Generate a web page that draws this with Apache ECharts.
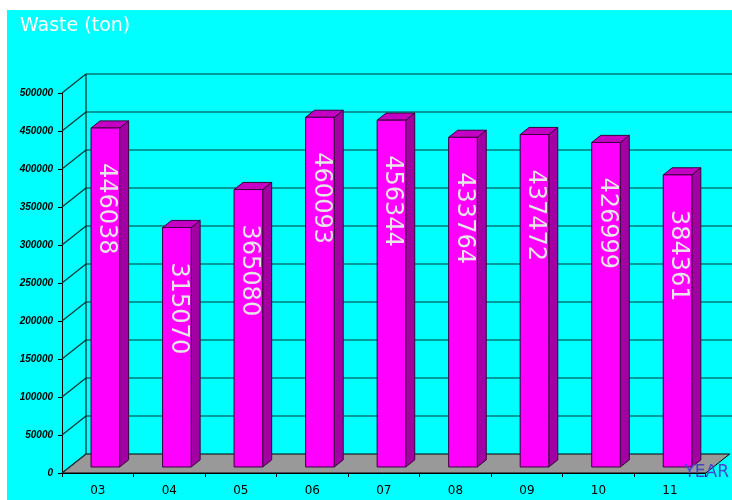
<!DOCTYPE html>
<html>
<head>
<meta charset="utf-8">
<script src="https://cdn.jsdelivr.net/npm/echarts@6/dist/echarts.min.js"></script>
<style>
  html, body { margin: 0; padding: 0; background: #ffffff; }
  #chart { width: 732px; height: 500px; }
</style>
</head>
<body>
<div id="chart"></div>
<script>
// ---- data ----
const categories = ['03', '04', '05', '06', '07', '08', '09', '10', '11'];
const wasteValues = [446038, 315070, 365080, 460093, 456344, 433764, 437472, 426999, 384361];
const yMin = 0;
const yMax = 500000;
const yStep = 50000;
const titleText = 'Waste (ton)';
const xName = 'YEAR';

// ---- 3D styling constants ----
const DX = 24, DY = -19;        // depth offset of back wall
const F1 = 0.316, F2 = 0.69;    // bar front/back depth fractions
const BAR_W = 0.4;              // bar width as fraction of band

const chart = echarts.init(document.getElementById('chart'), null, { renderer: 'canvas' });

const tickValues = [];
for (let v = yMin; v <= yMax; v += yStep) tickValues.push(v);

function renderWalls(params, api) {
  const bw = api.size([1, 0])[0];
  const x0 = api.coord([0, 0])[0] - bw / 2;
  const x1 = x0 + bw * categories.length;
  const y0 = api.coord([0, yMin])[1];
  const yT = api.coord([0, yMax])[1];
  const lineStyle = { stroke: '#063636', lineWidth: 1.2, fill: null };
  const children = [];
  children.push({
    type: 'polygon',
    shape: { points: [[x0, y0], [x1, y0], [x1 + DX, y0 + DY], [x0 + DX, y0 + DY]] },
    style: { fill: '#999999', stroke: '#000000', lineWidth: 1 }
  });
  tickValues.forEach(function (v) {
    const y = api.coord([0, v])[1];
    if (v !== yMin) {
      children.push({ type: 'line', shape: { x1: x0 + DX, y1: y + DY, x2: x1 + DX + 30, y2: y + DY }, style: lineStyle });
    }
    children.push({ type: 'line', shape: { x1: x0, y1: y, x2: x0 + DX, y2: y + DY }, style: lineStyle });
  });
  children.push({ type: 'line', shape: { x1: x0 + DX, y1: y0 + DY, x2: x0 + DX, y2: yT + DY }, style: { stroke: '#000', lineWidth: 1 } });
  return { type: 'group', children: children };
}

function renderBar(params, api) {
  const i = api.value(0);
  const v = api.value(1);
  const top = api.coord([i, v]);
  const base = api.coord([i, 0]);
  const bw = api.size([1, 0])[0];
  const w = bw * BAR_W;
  const fx = DX * F1, fy = DY * F1;
  const sx = DX * (F2 - F1), sy = DY * (F2 - F1);
  const L = top[0] - w / 2 + fx, R = top[0] + w / 2 + fx;
  const T = top[1] + fy, B = base[1] + fy;
  const edge = '#3a003a';
  return {
    type: 'group',
    children: [
      { type: 'polygon', shape: { points: [[R, B], [R + sx, B + sy], [R + sx, T + sy], [R, T]] },
        style: { fill: '#a300a3', stroke: edge, lineWidth: 1 } },
      { type: 'polygon', shape: { points: [[L, T], [R, T], [R + sx, T + sy], [L + sx, T + sy]] },
        style: { fill: '#c400c4', stroke: edge, lineWidth: 1 } },
      { type: 'rect', shape: { x: L, y: T, width: R - L, height: B - T },
        style: { fill: '#ff00ff', stroke: edge, lineWidth: 1 } },
      { type: 'text', x: (L + R) / 2 + 1, y: T + 35, rotation: -Math.PI / 2,
        style: { text: String(v), fill: '#e6e6e6', font: '24px "DejaVu Sans"', align: 'left', verticalAlign: 'middle' } }
    ]
  };
}

const option = {
  backgroundColor: '#00ffff',
  animation: false,
  title: {
    text: titleText, left: 20, top: 17, padding: 0,
    textStyle: { color: '#ffffff', fontSize: 19, fontWeight: 'normal', fontFamily: 'DejaVu Sans' }
  },
  graphic: [
    { type: 'rect', left: 0, top: 0, shape: { width: 732, height: 10 }, style: { fill: '#ffffff' }, z: 100 },
    { type: 'rect', left: 0, top: 0, shape: { width: 7, height: 500 }, style: { fill: '#ffffff' }, z: 100 }
  ],
  grid: { left: 62, right: 25, top: 93, bottom: 27, containLabel: false },
  xAxis: {
    type: 'category',
    data: categories,
    z: 5,
    name: xName,
    nameLocation: 'end',
    nameGap: 1,
    nameTextStyle: { color: '#4545c8', fontSize: 17, fontFamily: 'DejaVu Sans', align: 'center', verticalAlign: 'middle' },
    axisLine: { show: true, lineStyle: { color: '#000', width: 1 } },
    axisTick: { show: true, alignWithLabel: false, length: 4, lineStyle: { color: '#000' } },
    axisLabel: { color: '#000', fontSize: 12, fontFamily: 'DejaVu Sans', margin: 12 },
    splitLine: { show: false }
  },
  yAxis: {
    type: 'value',
    min: yMin, max: yMax, interval: yStep,
    axisLine: { show: true, lineStyle: { color: '#000', width: 1 } },
    axisTick: { show: true, length: 4, lineStyle: { color: '#000' } },
    axisLabel: {
      color: '#000', fontSize: 10, fontWeight: 'bold', fontStyle: 'italic', fontFamily: 'Liberation Sans', margin: 9,
      formatter: function (v) { return String(v); }
    },
    splitLine: { show: false }
  },
  series: [
    { type: 'custom', name: 'walls', renderItem: renderWalls, data: [[0, 0]], clip: false, z: 1, silent: true },
    { type: 'custom', name: 'Waste', renderItem: renderBar, data: wasteValues.map(function (v, i) { return [i, v]; }), clip: false, z: 2 }
  ]
};
chart.setOption(option);
</script>
</body>
</html>
